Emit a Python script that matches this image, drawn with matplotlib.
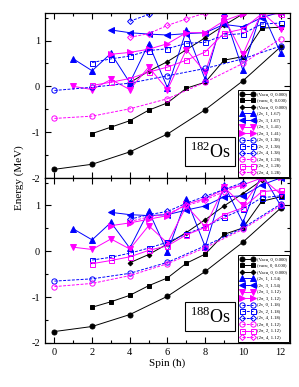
import numpy as np
import matplotlib
matplotlib.use("Agg")
import matplotlib.pyplot as plt
from matplotlib.ticker import MultipleLocator

plt.rcParams['font.family'] = ['Liberation Serif', 'DejaVu Serif']
plt.rcParams['mathtext.fontset'] = 'custom'
plt.rcParams['mathtext.rm'] = 'Liberation Serif'
plt.rcParams['axes.unicode_minus'] = False

# spin values of the bands
spin_even = [0, 2, 4, 6, 8, 10, 12]
spin_1to12 = [1, 2, 3, 4, 5, 6, 7, 8, 9, 10, 11, 12]
spin_2to12 = [2, 3, 4, 5, 6, 7, 8, 9, 10, 11, 12]
spin_3to12 = [3, 4, 5, 6, 7, 8, 9, 10, 11, 12]
spin_4to12 = [4, 5, 6, 7, 8, 9, 10, 11, 12]
spin_4to10 = [4, 5, 6, 7, 8, 9, 10]

# 182Os energies (MeV)
os182_vac_circ = [-1.81, -1.70, -1.43, -1.04, -0.51, 0.12, 0.86]
os182_vac_sq = [-1.03, -0.89, -0.75, -0.52, -0.36, -0.04, 0.09, 0.57, 0.65, 1.27, 1.29]
os182_vac_dia = [0.08, 0.33, 0.54, 0.80, 1.06, 1.33, 1.58, 1.85, 2.10]
os182_nu1 = [0.60, 0.34, 0.72, 0.08, 0.93, -0.03, 1.22, 0.15, 1.60, 0.35, 1.65, 0.73]
os182_nu3 = [1.23, 1.17, 1.14, 1.12, 1.15, 1.17, 1.35, 1.30, 1.50, 1.62]
os182_pi1 = [0.00, -0.07, 0.15, -0.07, 0.42, -0.07, 0.80, 0.31, 1.50, 0.70, 1.62, 1.25]
os182_pi3 = [0.70, 0.74, 0.81, 0.93, 1.17, 1.17, 1.43, 1.58, 1.75, 1.60]
os182_nu0 = [-0.09, -0.02, 0.07, 0.23, 0.39, 0.60, 0.88]
os182_nu2 = [0.52, 0.60, 0.66, 0.78, 0.82, 0.94, 0.96, 1.12, 1.15, 1.36, 1.38]
os182_nu4 = [1.42, 1.57, 1.70, 1.85, 2.00, 2.15, 2.30]
os182_pi0 = [-0.70, -0.65, -0.49, -0.27, 0.09, 0.50, 1.04]
os182_pi2 = [0.02, 0.09, 0.17, 0.31, 0.42, 0.57, 0.75, 1.16, 1.25, 1.58, 1.58]
os182_pi4 = [1.07, 1.15, 1.33, 1.47, 1.60, 1.75, 1.90]

# 188Os energies (MeV)
os188_vac_circ = [-1.75, -1.64, -1.38, -0.98, -0.44, 0.20, 0.94]
os188_vac_sq = [-1.22, -1.10, -0.96, -0.75, -0.58, -0.26, -0.06, 0.37, 0.51, 1.09, 1.19]
os188_vac_dia = [-0.25, -0.07, 0.16, 0.41, 0.69, 0.99, 1.26, 1.55, 1.80]
os188_nu1 = [0.49, 0.25, 0.63, 0.07, 0.88, -0.02, 1.15, 0.10, 1.45, 0.63, 1.70, 1.00]
os188_nu3 = [0.85, 0.80, 0.78, 0.80, 0.90, 0.99, 1.19, 1.21, 1.45, 1.60]
os188_pi1 = [0.09, 0.04, 0.27, 0.05, 0.56, 0.18, 0.99, 0.54, 1.40, 1.00, 1.60, 1.25]
os188_pi3 = [0.56, 0.62, 0.70, 0.78, 1.03, 1.15, 1.35, 1.45, 1.60, 1.62]
os188_nu0 = [-0.65, -0.60, -0.48, -0.24, 0.12, 0.51, 1.03]
os188_nu2 = [-0.19, -0.13, -0.04, 0.07, 0.20, 0.38, 0.54, 0.74, 0.92, 1.17, 1.21]
os188_nu4 = [0.70, 0.80, 0.87, 1.05, 1.20, 1.35, 1.50]
os188_pi0 = [-0.77, -0.70, -0.53, -0.27, 0.08, 0.48, 1.00]
os188_pi2 = [-0.27, -0.20, -0.12, 0.02, 0.12, 0.36, 0.52, 0.80, 0.95, 1.30, 1.34]
os188_pi4 = [0.65, 0.75, 0.82, 1.00, 1.12, 1.30, 1.45]

labels_182 = ['(Vacu, 0, 0.000)', '(vacu, 0, 0.000)', '(Vacu, 0, 0.000)',
              '(2\u03bd, 1, 1.67)', '(2\u03bd, 3, 1.67)', '(2\u03c0, 1, 1.41)', '(2\u03c0, 3, 1.41)',
              '(2\u03bd, 0, 1.38)', '(2\u03bd, 2, 1.38)', '(2\u03bd, 4, 1.38)',
              '(2\u03c0, 0, 1.28)', '(2\u03c0, 2, 1.28)', '(2\u03c0, 4, 1.28)']
labels_188 = ['(Vacu, 0, 0.000)', '(vacu, 0, 0.000)', '(Vacu, 0, 0.000)',
              '(2\u03bd, 1, 1.54)', '(2\u03bd, 3, 1.54)', '(2\u03c0, 1, 1.12)', '(2\u03c0, 3, 1.12)',
              '(2\u03bd, 0, 1.18)', '(2\u03bd, 2, 1.18)', '(2\u03bd, 4, 1.18)',
              '(2\u03c0, 0, 1.12)', '(2\u03c0, 2, 1.12)', '(2\u03c0, 4, 1.12)']

BLUE = '#0000ff'
MAG = '#ff00ff'

# (spins, marker, color, filled, linestyle, markersize)
styles = [
    (spin_even, 'o', 'black', True, '-', 3.6),
    (spin_2to12, 's', 'black', True, '-', 3.4),
    (spin_4to12, 'D', 'black', True, '-', 2.4),
    (spin_1to12, '^', BLUE, True, '-', 3.8),
    (spin_3to12, '<', BLUE, True, '-', 3.8),
    (spin_1to12, 'v', MAG, True, '-', 3.8),
    (spin_3to12, '>', MAG, True, '-', 3.8),
    (spin_even, 'o', BLUE, False, '--', 3.8),
    (spin_2to12, 's', BLUE, False, '--', 3.6),
    (spin_4to10, 'D', BLUE, False, '--', 3.0),
    (spin_even, 'o', MAG, False, '--', 3.8),
    (spin_2to12, 's', MAG, False, '-', 3.6),
    (spin_4to10, 'D', MAG, False, '--', 3.0),
]

data_182 = [os182_vac_circ, os182_vac_sq, os182_vac_dia, os182_nu1, os182_nu3,
            os182_pi1, os182_pi3, os182_nu0, os182_nu2, os182_nu4,
            os182_pi0, os182_pi2, os182_pi4]
data_188 = [os188_vac_circ, os188_vac_sq, os188_vac_dia, os188_nu1, os188_nu3,
            os188_pi1, os188_pi3, os188_nu0, os188_nu2, os188_nu4,
            os188_pi0, os188_pi2, os188_pi4]


def draw_panel(ax, data, labels, nucleus):
    for (spins, mk, col, filled, ls, ms), vals, lab in zip(styles, data, labels):
        ax.plot(spins, vals, linestyle=ls, color=col, linewidth=0.7,
                marker=mk, markersize=ms, markeredgewidth=0.7,
                markerfacecolor=col if filled else 'none', markeredgecolor=col,
                label=lab, dashes=(3, 1.5) if ls == '--' else (None, None))
    ax.set_xlim(-0.5, 12.5)
    ax.set_ylim(-2, 1.6)
    ax.xaxis.set_major_locator(MultipleLocator(2))
    ax.xaxis.set_minor_locator(MultipleLocator(1))
    ax.yaxis.set_major_locator(MultipleLocator(1))
    ax.yaxis.set_minor_locator(MultipleLocator(0.5))
    ax.tick_params(which='both', direction='in', top=True, right=True, labelsize=7.5, width=0.8)
    ax.tick_params(which='major', length=4)
    ax.tick_params(which='minor', length=2.5)
    for sp in ax.spines.values():
        sp.set_linewidth(0.9)
    leg = ax.legend(loc='lower right', bbox_to_anchor=(1.0, 0.0), fontsize=3.4,
                    numpoints=2, handlelength=2.9, labelspacing=0.45,
                    borderaxespad=0.15, borderpad=0.5, handletextpad=0.6,
                    fancybox=False, framealpha=1, edgecolor='black')
    leg.get_frame().set_linewidth(0.7)
    ax.text(0.675, 0.16, nucleus, transform=ax.transAxes, fontsize=13,
            ha='center', va='center',
            bbox=dict(boxstyle='square,pad=0.25', facecolor='white', edgecolor='black', linewidth=0.8))


fig = plt.figure(figsize=(2.99, 3.87), dpi=100)
ax_top = fig.add_axes([0.1505, 0.540, 0.8194, 0.4264])
ax_bot = fig.add_axes([0.1505, 0.1137, 0.8194, 0.4264], sharex=ax_top)

draw_panel(ax_top, data_182, labels_182, r'$^{182}$Os')
draw_panel(ax_bot, data_188, labels_188, r'$^{188}$Os')
ax_top.tick_params(labelbottom=False)

fig.text(0.065, 0.54, 'Energy (MeV)', rotation=90, ha='center', va='center', fontsize=8)
ax_bot.set_xlabel('Spin (\u0127)', fontsize=8, labelpad=1)

fig.savefig('out.png', dpi=100)
